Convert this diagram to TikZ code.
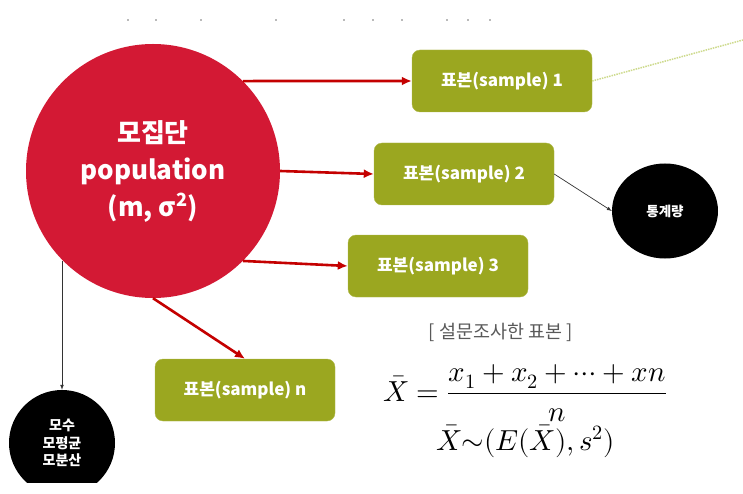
\documentclass[tikz,border=0pt]{standalone}
\usepackage{fontspec}
\usepackage{unicode-math}
\newfontfamily\kr{Noto Sans CJK KR}
\usetikzlibrary{arrows,arrows.meta,shapes,positioning}
\definecolor{popred}{RGB}{211,25,52}
\definecolor{linkred}{RGB}{196,0,0}
\definecolor{smpgreen}{RGB}{155,167,32}
\definecolor{dotgreen}{RGB}{205,218,140}
\tikzset{
    basic/.style  = {font=\kr, align=center, inner sep=0pt},
    pop circle/.style = {basic, circle, fill=popred, text=white, minimum size=254pt, font=\kr\bfseries\fontsize{26}{37}\selectfont},
    sample box/.style = {basic, rectangle, rounded corners=8pt, fill=smpgreen, draw=smpgreen!80!white, text=white, minimum width=180pt, minimum height=62pt, font=\kr\bfseries\fontsize{17}{19}\selectfont},
    black circle/.style = {basic, circle, fill=black, text=white, minimum size=106pt, font=\kr\bfseries\fontsize{14}{17.5}\selectfont},
    black ellipse/.style = {basic, ellipse, fill=black, text=white, minimum width=106pt, minimum height=95pt, font=\kr\bfseries\fontsize{13.5}{17}\selectfont},
    red link/.style = {-{Latex[length=10pt,width=9pt]}, draw=linkred, line width=2.6pt},
    thin link/.style = {->, draw=black!80, line width=0.7pt},
    note/.style = {basic, text=black!65, font=\kr\fontsize{18.5}{20}\selectfont},
    formula/.style = {inner sep=0pt, font=\fontsize{29}{33}\selectfont}
}
\begin{document}
\begin{tikzpicture}[x=1pt, y=-1pt, >=latex]
	\useasboundingbox (0,0) rectangle (743,494);
	\foreach \x in {128,156,201,276,344,373,402,447,468,490}
		\fill[black!55] (\x,20) circle (0.8);
	\node[pop circle] (pop) at (153,171) {모집단\\population\\(m, σ\textsuperscript{2})};
	\node[sample box] (smp1) at (502,81) {표본(sample) 1};
	\node[sample box] (smp2) at (464,174) {표본(sample) 2};
	\node[sample box] (smp3) at (438,266) {표본(sample) 3};
	\node[sample box] (smpn) at (245,390) {표본(sample) n};
	\node[black ellipse] (stat) at (665,211) {통계량};
	\begin{scope}
		\clip (0,0) rectangle (743,482);
		\node[black circle] (param) at (62,443) {모수\\모평균\\모분산};
	\end{scope}
	\coordinate (edge) at (743,40);
	\draw[red link] (pop.north east) -- (smp1.west);
	\draw[red link] (pop.east) -- (smp2.west);
	\draw[red link] (pop.south east) -- (smp3.west);
	\draw[red link] (pop.south) -- (smpn.north);
	\draw[thin link] (pop.south west -| param.north) -- (param.north);
	\draw[thin link] (smp2.east) -- (stat.west);
	\draw[dotgreen, densely dotted, line width=1.5pt] (smp1.east) -- (edge);
	\node[note] (survey) at (501,332) {[ 설문조사한 표본 ]};
	\node[formula] (mean) at (525,393) {$\displaystyle \bar{X} = \frac{x_1 + x_2 + \cdots + xn}{n}$};
	\node[formula, anchor=west] (dist) at (436,441) {$\bar{X}{\sim}(E(\bar{X}), s^2)$};
\end{tikzpicture}
\end{document}
